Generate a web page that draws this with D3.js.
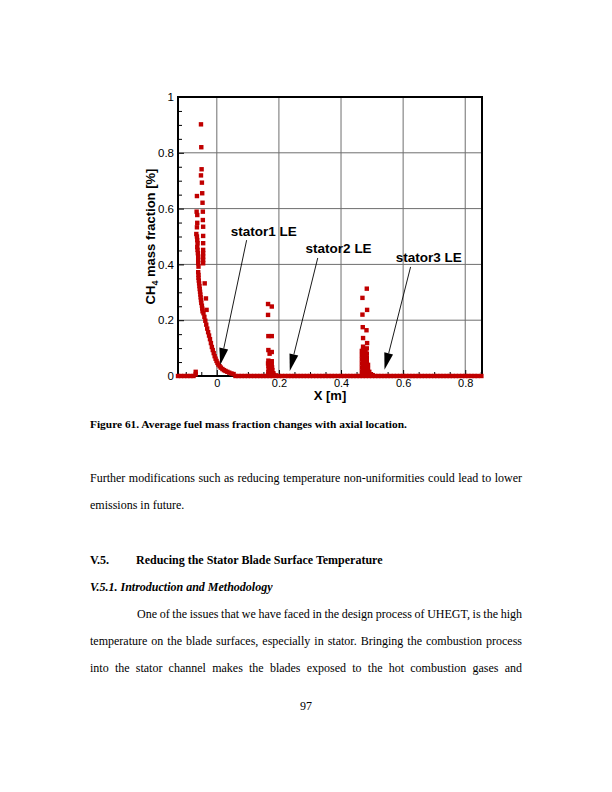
<!DOCTYPE html>
<html><head><meta charset="utf-8">
<script src="https://cdn.jsdelivr.net/npm/d3@7"></script>
<style>body{margin:0;background:#fff} svg{display:block}</style>
</head><body>
<svg id="page" width="612" height="792"></svg>
<script>
// ---------- data ----------
const xTicks = [0, 0.2, 0.4, 0.6, 0.8];
const xTickLabels = ["0", "0.2", "0.4", "0.6", "0.8"];
const yTicks = [0, 0.2, 0.4, 0.6, 0.8, 1];
const yTickLabels = ["0", "0.2", "0.4", "0.6", "0.8", "1"];
const xMinor = [-0.1,-0.05,0.05,0.1,0.15,0.25,0.3,0.35,0.45,0.5,0.55,0.65,0.7,0.75,0.85];
const yMinor = [0.05,0.1,0.15,0.25,0.3,0.35,0.45,0.5,0.55,0.65,0.7,0.75,0.85,0.9,0.95];

// points lying on y = 0
const baselineX = [-0.125,-0.115,-0.105,-0.095,-0.085,-0.075,
  0.06,0.07,0.08,0.09,0.10,0.11,0.12,0.13,0.14,0.15,0.16,0.17,0.18,0.19,0.20,0.21,0.22,0.23,0.24,0.25,
  0.26,0.27,0.28,0.29,0.30,0.31,0.32,0.33,0.34,0.35,0.36,0.37,0.38,0.39,0.40,0.41,0.42,0.43,0.44,0.45,
  0.46,0.47,0.48,0.49,0.50,0.51,0.52,0.53,0.54,0.55,0.56,0.57,0.58,0.59,0.60,0.61,0.62,0.63,0.64,0.65,
  0.66,0.67,0.68,0.69,0.70,0.71,0.72,0.73,0.74,0.75,0.76,0.77,0.78,0.79,0.80,0.81,0.82,0.83,0.84,0.852];

// first peak (upstream of stator 1)
const peak1X = [-0.068,-0.068,
  -0.051,-0.050,-0.049,-0.051,-0.048,-0.047,-0.064,-0.046,-0.065,-0.063,-0.045,-0.045,-0.063,-0.064,-0.044,
  -0.066,-0.064,-0.044,-0.063,-0.062,-0.044,-0.063,-0.062,-0.061,-0.044,-0.044,-0.060,-0.060,-0.044,-0.044,
  -0.044,-0.060,-0.059,
  -0.060,-0.059,-0.059,-0.058,-0.057,-0.056,-0.055,-0.054,-0.053,-0.052,-0.051,-0.050,-0.048,-0.047,-0.046,
  -0.039,-0.035,-0.033,
  -0.043,-0.040,-0.037,-0.034,-0.031,-0.028,-0.025,-0.022,-0.019,-0.016,-0.013,-0.010,-0.007,-0.004,-0.001,
  0.002,0.005,0.009,0.013,0.018,0.023,0.028,0.034,0.040,0.047,0.054];
const peak1Y = [0.015,0.006,
  0.902,0.820,0.741,0.719,0.693,0.655,0.645,0.621,0.589,0.577,0.589,0.559,0.549,0.533,0.535,
  0.509,0.500,0.502,0.487,0.476,0.476,0.462,0.452,0.440,0.452,0.440,0.428,0.416,0.428,0.416,
  0.404,0.404,0.392,
  0.372,0.362,0.352,0.342,0.332,0.322,0.312,0.302,0.292,0.282,0.272,0.262,0.252,0.242,0.232,
  0.332,0.278,0.237,
  0.225,0.212,0.198,0.184,0.170,0.157,0.145,0.132,0.118,0.104,0.093,0.082,0.071,0.062,0.054,
  0.047,0.041,0.035,0.030,0.025,0.021,0.018,0.015,0.012,0.009,0.007];

// second peak (upstream of stator 2)
const peak2X = [0.165,0.177,0.165,0.166,0.177,0.166,0.177,0.170,0.166,0.177,
  0.165,0.171,0.177,0.166,0.172,0.178,0.167,0.173,0.179,0.166,0.171,0.177,0.182,0.166,0.172,0.178,0.184,0.190];
const peak2Y = [0.258,0.249,0.219,0.143,0.143,0.093,0.086,0.080,0.055,0.053,
  0.045,0.044,0.042,0.035,0.033,0.031,0.025,0.023,0.021,0.015,0.014,0.013,0.010,0.007,0.006,0.006,0.004,0.002];

// third peak (upstream of stator 3)
const peak3X = [0.483,0.469,0.484,0.469,0.470,0.482,0.471,0.484,0.471,0.483,
  0.467,0.467,0.467,0.467,0.467,0.467,
  0.471,0.471,0.471,0.471,0.471,0.471,0.471,
  0.475,0.475,0.475,0.475,0.475,0.475,
  0.479,0.479,0.479,0.479,0.479,0.479,
  0.483,0.483,0.483,0.483,0.483,0.483,
  0.487,0.487,0.487,0.487,0.491,0.491,0.496,0.496,0.502];
const peak3Y = [0.313,0.280,0.237,0.220,0.175,0.164,0.136,0.118,0.105,0.099,
  0.090,0.075,0.060,0.045,0.030,0.015,
  0.095,0.080,0.065,0.050,0.035,0.020,0.008,
  0.085,0.070,0.055,0.040,0.025,0.012,
  0.090,0.075,0.060,0.045,0.030,0.015,
  0.080,0.065,0.050,0.035,0.020,0.008,
  0.040,0.025,0.012,0.005,0.015,0.006,0.006,0.002,0.003];

// annotations (data coordinates)
const annLabels = ["stator1 LE", "stator2 LE", "stator3 LE"];
const annTextX = [0.045, 0.286, 0.576];
const annTextY = [0.502, 0.441, 0.409];
const annFromX = [0.096, 0.325, 0.624];
const annFromY = [0.487, 0.423, 0.391];
const annToX = [0.011, 0.235, 0.540];
const annToY = [0.039, 0.018, 0.022];

// ---------- drawing ----------
const svg = d3.select("#page");
const L = 178, R = 482, T = 97, B = 376;
const x = d3.scaleLinear().domain([-0.125, 0.854]).range([L, R]);
const y = d3.scaleLinear().domain([0, 1]).range([B, T]);
const sans = "'Liberation Sans', Arial, sans-serif";
const serif = "'Liberation Serif', 'Times New Roman', serif";
const red = "#c00000";

const g = svg.append("g");

// grid
g.selectAll(".vg").data(xTicks).join("line")
  .attr("x1", d => x(d)).attr("x2", d => x(d)).attr("y1", T).attr("y2", B)
  .attr("stroke", "#6e6e6e").attr("stroke-width", 1);
g.selectAll(".hg").data(yTicks.filter(d => d > 0 && d < 1)).join("line")
  .attr("x1", L).attr("x2", R).attr("y1", d => y(d)).attr("y2", d => y(d))
  .attr("stroke", "#6e6e6e").attr("stroke-width", 1);

// axes (ticks inward)
const axB = g.append("g").attr("transform", `translate(0,${B})`)
  .call(d3.axisBottom(x).tickValues(xTicks).tickSize(-6).tickPadding(3)
    .tickFormat((d, i) => xTickLabels[i]));
const axBm = g.append("g").attr("transform", `translate(0,${B})`)
  .call(d3.axisBottom(x).tickValues(xMinor).tickSize(-4).tickFormat(""));
const axL = g.append("g").attr("transform", `translate(${L},0)`)
  .call(d3.axisLeft(y).tickValues(yTicks).tickSize(-6).tickPadding(4)
    .tickFormat((d, i) => yTickLabels[i]));
const axLm = g.append("g").attr("transform", `translate(${L},0)`)
  .call(d3.axisLeft(y).tickValues(yMinor).tickSize(-4).tickFormat(""));
[axB, axBm, axL, axLm].forEach(a => {
  a.select(".domain").remove();
  a.selectAll(".tick line").attr("stroke", "#000").attr("stroke-width", 1);
  a.selectAll("text").attr("font-family", sans).attr("font-size", 11.5).attr("fill", "#000");
});
axB.selectAll("text").attr("font-size", 11);

// frame
g.append("rect").attr("x", L).attr("y", T).attr("width", R - L).attr("height", B - T)
  .attr("fill", "none").attr("stroke", "#000").attr("stroke-width", 2);

// points
const s = 4.4;
function drawSquares(xs, ys) {
  g.append("g").selectAll("rect").data(xs.map((d, i) => [d, ys[i]])).join("rect")
    .attr("x", d => x(d[0]) - s / 2).attr("y", d => y(d[1]) - s / 2)
    .attr("width", s).attr("height", s).attr("fill", red);
}
drawSquares(baselineX, baselineX.map(() => 0));
drawSquares(peak1X, peak1Y);
drawSquares(peak2X, peak2Y);
drawSquares(peak3X, peak3Y);

// axis titles
g.append("text").attr("x", (L + R) / 2).attr("y", 400).attr("text-anchor", "middle")
  .attr("font-family", sans).attr("font-weight", "bold").attr("font-size", 13).text("X [m]");
const yt = g.append("text").attr("transform", `translate(155,${(T + B) / 2}) rotate(-90)`)
  .attr("text-anchor", "middle").attr("font-family", sans).attr("font-weight", "bold").attr("font-size", 13);
yt.append("tspan").text("CH");
yt.append("tspan").attr("font-size", 9).attr("dy", 3).text("4");
yt.append("tspan").attr("dy", -3).text(" mass fraction [%]");

// annotations
annLabels.forEach((lab, i) => {
  g.append("text").attr("x", x(annTextX[i])).attr("y", y(annTextY[i]))
    .attr("font-family", sans).attr("font-weight", "bold").attr("font-size", 13.5).text(lab);
  const x1 = x(annFromX[i]), y1 = y(annFromY[i]), x2 = x(annToX[i]), y2 = y(annToY[i]);
  const dx = x2 - x1, dy = y2 - y1, len = Math.hypot(dx, dy);
  const ux = dx / len, uy = dy / len, hl = 17, hw = 4.5;
  const bx = x2 - ux * hl, by = y2 - uy * hl;
  g.append("line").attr("x1", x1).attr("y1", y1).attr("x2", bx).attr("y2", by)
    .attr("stroke", "#000").attr("stroke-width", 0.9);
  g.append("polygon").attr("points",
    `${x2},${y2} ${bx - uy * hw},${by + ux * hw} ${bx + uy * hw},${by - ux * hw}`)
    .attr("fill", "#000");
});

// ---------- page text ----------
const doc = svg.append("g").attr("font-family", serif).attr("fill", "#000");
doc.append("text").attr("x", 90).attr("y", 428).attr("font-size", 11.4).attr("font-weight", "bold")
  .text("Figure 61. Average fuel mass fraction changes with axial location.");

function justify(t, x0, x1) {
  const node = t.node();
  const w = node.getComputedTextLength();
  const spaces = (node.textContent.match(/ /g) || []).length;
  if (spaces) t.attr("word-spacing", ((x1 - x0) - w) / spaces);
}
const lines = [
  {t: "Further modifications such as reducing temperature non-uniformities could lead to lower", x: 90, y: 482, j: true},
  {t: "emissions in future.", x: 90, y: 509, j: false},
  {t: "One of the issues that we have faced in the design process of UHEGT, is the high", x: 137, y: 618, j: true},
  {t: "temperature on the blade surfaces, especially in stator. Bringing the combustion process", x: 90, y: 645, j: true},
  {t: "into the stator channel makes the blades exposed to the hot combustion gases and", x: 90, y: 672, j: true}
];
lines.forEach(l => {
  const t = doc.append("text").attr("x", l.x).attr("y", l.y).attr("font-size", 12).text(l.t);
  if (l.j) justify(t, l.x, 522);
});
doc.append("text").attr("x", 90).attr("y", 564).attr("font-size", 12).attr("font-weight", "bold").text("V.5.");
doc.append("text").attr("x", 136).attr("y", 564).attr("font-size", 12).attr("font-weight", "bold")
  .text("Reducing the Stator Blade Surface Temperature");
doc.append("text").attr("x", 90).attr("y", 591).attr("font-size", 12).attr("font-weight", "bold")
  .attr("font-style", "italic").text("V.5.1.  Introduction and Methodology");
doc.append("text").attr("x", 306).attr("y", 710).attr("font-size", 12).attr("text-anchor", "middle").text("97");
</script>
</body></html>
